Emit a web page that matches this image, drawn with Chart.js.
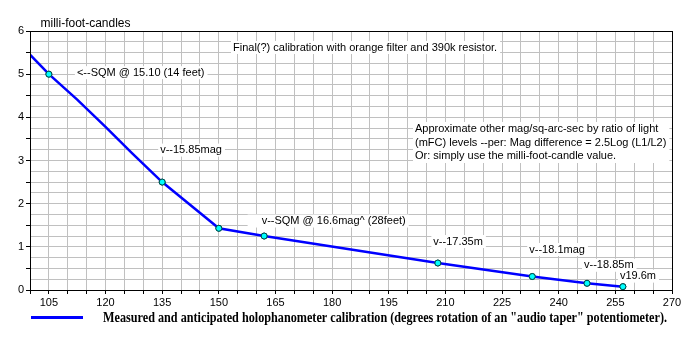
<!DOCTYPE html>
<html>
<head>
<meta charset="utf-8">
<title>Holophanometer calibration</title>
<script src="https://cdn.jsdelivr.net/npm/chart.js@4/dist/chart.umd.min.js"></script>
<style>
  html, body { margin: 0; padding: 0; background: #fff; }
  canvas { display: block; }
</style>
</head>
<body>
<canvas id="chart" width="700" height="350"></canvas>
<script>
// Calibration curve: pot rotation (degrees) vs light level (milli-foot-candles)
const curveDegrees = [100, 105, 112.5, 120, 127, 135, 150, 162, 208, 233, 247.5, 257];
const curveMfc     = [5.45, 5.0, 4.41, 3.78, 3.17, 2.5, 1.43, 1.25, 0.625, 0.3125, 0.156, 0.078];

// Measured / reference calibration points (drawn with markers)
const pointDegrees = [105, 135, 150, 162, 208, 233, 247.5, 257];
const pointMfc     = [5.0, 2.5, 1.43, 1.25, 0.625, 0.3125, 0.156, 0.078];

// Axis settings
const xMin = 100, xMax = 270, xStep = 5, xLabelEvery = 15, xFirstLabel = 105;
const yMin = 0, yMax = 6, yStep = 0.25;

// Text
const yTitle = 'milli-foot-candles';
const seriesLabel = 'Measured and anticipated holophanometer calibration (degrees rotation of an "audio taper" potentiometer).';
const headNote = 'Final(?) calibration with orange filter and 390k resistor.';
const sideNote = [
  'Approximate other mag/sq-arc-sec by ratio of light',
  '(mFC) levels --per: Mag difference = 2.5Log (L1/L2)',
  'Or: simply use the milli-foot-candle value.'
];
const pointNotes = [
  '<--SQM @ 15.10 (14 feet)',
  'v--15.85mag',
  null,
  'v--SQM @ 16.6mag^ (28feet)',
  'v--17.35m',
  'v--18.1mag',
  'v--18.85m',
  'v19.6m'
];

// Placement of the point notes relative to their marker (pixels)
const noteOffsets = [
  { dx: 28, dy: -1.5 },
  { dx: -2, dy: -32 },
  null,
  { dx: -2.5, dy: -15, padLeft: 14 },
  { dx: -4.5, dy: -21.5 },
  { dx: -3, dy: -27 },
  { dx: -3, dy: -18 },
  { dx: -3, dy: -10.5 }
];

const SANS = "'Liberation Sans', Arial, Helvetica, sans-serif";
const SERIF = "'Liberation Serif', 'Times New Roman', serif";

Chart.defaults.font.family = SANS;
Chart.defaults.font.size = 11;
Chart.defaults.color = '#000';

function boxedText(ctx, text, x, y, padLeft) {
  const w = ctx.measureText(text).width;
  const pl = padLeft || 2;
  ctx.fillStyle = '#fff';
  ctx.fillRect(x - pl, y - 6.5, w + pl + 3, 13);
  ctx.fillStyle = '#000';
  ctx.fillText(text, x, y);
}

const decorations = {
  id: 'decorations',
  afterDatasetsDraw(chart) {
    const { ctx, chartArea: a, scales } = chart;
    ctx.save();

    // frame around the plot
    ctx.strokeStyle = '#000';
    ctx.lineWidth = 1;
    ctx.strokeRect(Math.round(a.left) + 0.5, Math.round(a.top) + 0.5,
                   Math.round(a.right - a.left), Math.round(a.bottom - a.top));

    ctx.font = '11px ' + SANS;
    ctx.textBaseline = 'middle';
    ctx.textAlign = 'left';

    // heading note
    boxedText(ctx, headNote, a.left + 203, a.top + 16.5);

    // side note block
    const sx = a.left + 385, sy = a.top + 98;
    let maxW = 0;
    sideNote.forEach(t => { maxW = Math.max(maxW, ctx.measureText(t).width); });
    ctx.fillStyle = '#fff';
    ctx.fillRect(sx - 2, sy - 7, maxW + 5, 13.5 * (sideNote.length - 1) + 14);
    ctx.fillStyle = '#000';
    sideNote.forEach((t, i) => ctx.fillText(t, sx, sy + i * 13.6));

    // notes next to the calibration points
    pointNotes.forEach((t, i) => {
      if (!t) return;
      const off = noteOffsets[i];
      const px = scales.x.getPixelForValue(pointDegrees[i]);
      const py = scales.y.getPixelForValue(pointMfc[i]);
      boxedText(ctx, t, px + off.dx, py + off.dy, off.padLeft);
    });

    // redraw markers on top of the note boxes
    const meta = chart.getDatasetMeta(0);
    ctx.save();
    meta.data.forEach(el => el.draw(ctx, a));
    ctx.restore();

    // axis title
    ctx.font = '12px ' + SANS;
    ctx.fillStyle = '#000';
    ctx.textBaseline = 'middle';
    ctx.textAlign = 'left';
    ctx.fillText(yTitle, 40.5, 23.5);

    // legend
    ctx.strokeStyle = '#0000ff';
    ctx.lineWidth = 3;
    ctx.beginPath();
    ctx.moveTo(31, 317.5);
    ctx.lineTo(83, 317.5);
    ctx.stroke();
    ctx.font = 'bold 14px ' + SERIF;
    ctx.fillStyle = '#000';
    ctx.fillText(seriesLabel, 103, 318, 564);

    ctx.restore();
  }
};

new Chart(document.getElementById('chart'), {
  type: 'scatter',
  data: {
    datasets: [
      {
        label: 'points',
        data: pointDegrees.map((d, i) => ({ x: d, y: pointMfc[i] })),
        showLine: false,
        pointRadius: 3,
        pointBackgroundColor: '#00ffff',
        pointBorderColor: '#004848',
        pointBorderWidth: 1
      },
      {
        label: seriesLabel,
        data: curveDegrees.map((d, i) => ({ x: d, y: curveMfc[i] })),
        showLine: true,
        borderColor: '#0000ff',
        borderWidth: 2.5,
        pointRadius: 0,
        tension: 0,
        fill: false
      }
    ]
  },
  options: {
    responsive: false,
    animation: false,
    events: [],
    layout: { padding: { left: 0, top: 31, right: 28, bottom: 40 } },
    plugins: { legend: { display: false }, tooltip: { enabled: false }, title: { display: false } },
    scales: {
      x: {
        type: 'linear',
        min: xMin, max: xMax,
        afterFit(s) { s.height = 20; },
        ticks: {
          stepSize: xStep,
          autoSkip: false,
          maxRotation: 0,
          padding: 2,
          font: { size: 11 },
          callback: v => ((v - xFirstLabel) % xLabelEvery === 0 ? String(v) : '')
        },
        grid: { color: '#c0c0c0', lineWidth: 1, tickLength: 4, tickColor: '#000', drawOnChartArea: true },
        border: { color: '#000', width: 1 }
      },
      y: {
        type: 'linear',
        min: yMin, max: yMax,
        afterFit(s) { s.width = 30; },
        ticks: {
          stepSize: yStep,
          autoSkip: false,
          padding: 2,
          font: { size: 11 },
          callback: v => (Number.isInteger(v) ? String(v) : '')
        },
        grid: {
          color: '#c0c0c0',
          lineWidth: 1,
          tickLength: 4,
          tickColor: c => (c.tick && c.tick.value % 0.5 === 0 ? '#000' : 'rgba(0,0,0,0)')
        },
        border: { color: '#000', width: 1 }
      }
    }
  },
  plugins: [decorations]
});
</script>
</body>
</html>
